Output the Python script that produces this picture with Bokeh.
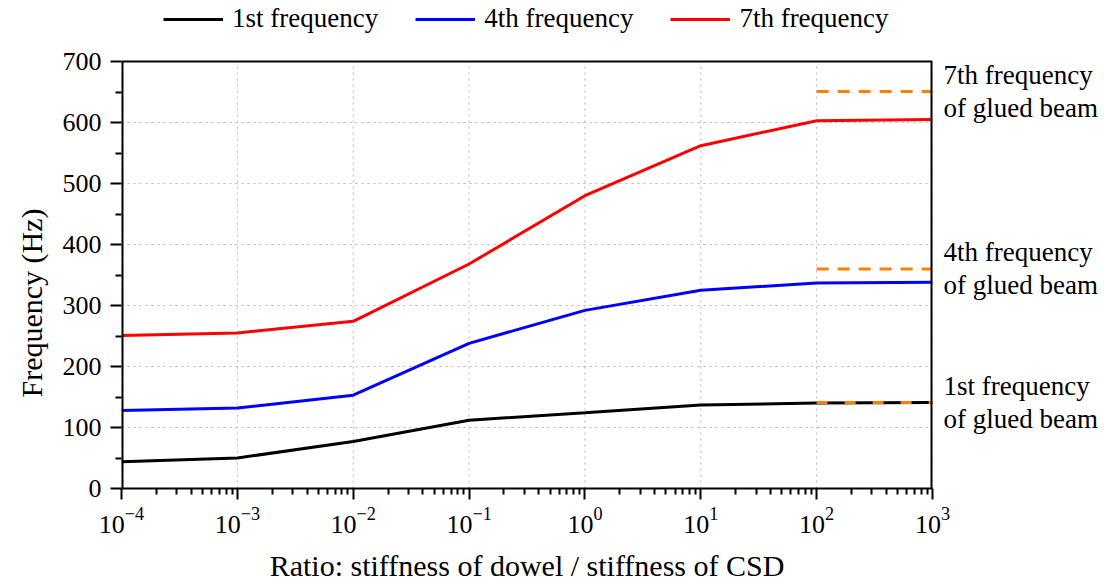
from bokeh.plotting import figure
from bokeh.models import (FixedTicker, LogTickFormatter, Legend, LegendItem,
                          Range1d, LinearAxis, Title)
from bokeh.embed import file_html
from bokeh.resources import INLINE

# ---- data ----
ratios = [1e-4, 1e-3, 1e-2, 1e-1, 1e0, 1e1, 1e2, 1e3]
freq_1st = [44, 50, 77, 112, 124, 137, 140, 141]
freq_4th = [128, 132, 153, 238, 292, 325, 337, 338]
freq_7th = [251, 255, 274, 368, 480, 562, 603, 605]
glued_x = [1e2, 1e3]
glued_1st = 141
glued_4th = 360
glued_7th = 651
series_names = ["1st frequency", "4th frequency", "7th frequency"]
glued_labels = ["1st frequency\nof glued beam",
                "4th frequency\nof glued beam",
                "7th frequency\nof glued beam"]
y_ticks = [0, 100, 200, 300, 400, 500, 600, 700]
x_ticks = [1e-4, 1e-3, 1e-2, 1e-1, 1e0, 1e1, 1e2, 1e3]

FONT = "Liberation Serif"
y_top_room = 800  # frame extends above 700 to host the legend

p = figure(x_axis_type="log", output_backend="svg", toolbar_location=None,
           frame_width=811, frame_height=488,
           min_border_left=121, min_border_right=170,
           min_border_top=0, min_border_bottom=93,
           x_range=Range1d(x_ticks[0], x_ticks[-1]),
           y_range=Range1d(y_ticks[0], y_top_room))

p.background_fill_color = "white"
p.border_fill_color = "white"
p.outline_line_color = None

# axes
minor_x = [m * 10.0 ** e for e in range(-4, 3) for m in range(2, 10)]
p.xaxis.ticker = FixedTicker(ticks=x_ticks, minor_ticks=minor_x)
p.xaxis.formatter = LogTickFormatter()
minor_y = [50 + 100 * i for i in range(7)]
p.yaxis.ticker = FixedTicker(ticks=y_ticks, minor_ticks=minor_y)

for ax in (p.xaxis[0], p.yaxis[0]):
    ax.axis_line_width = 2
    ax.axis_line_color = "black"
    ax.major_tick_line_width = 2
    ax.minor_tick_line_width = 2
    ax.major_tick_line_color = "black"
    ax.minor_tick_line_color = "black"
    ax.major_tick_out = 11
    ax.major_tick_in = 0
    ax.minor_tick_out = 6
    ax.minor_tick_in = 0
    ax.major_label_text_font = FONT
    ax.major_label_text_font_size = "26px"
    ax.major_label_text_color = "black"
p.yaxis.axis_line_color = None
p.xaxis.major_label_standoff = 8
p.yaxis.major_label_standoff = 9

p.xaxis.axis_label = "Ratio: stiffness of dowel / stiffness of CSD"
p.xaxis.axis_label_text_font = FONT
p.xaxis.axis_label_text_font_size = "30px"
p.xaxis.axis_label_text_font_style = "normal"
p.xaxis.axis_label_text_color = "black"
p.xaxis.axis_label_standoff = 13

# y title as a left-side title
p.add_layout(Title(text="Frequency (Hz)", align="left", offset=91,
                   text_font=FONT, text_font_size="30px", text_font_style="normal",
                   text_color="black", standoff=24), "left")

# right axis carrying the glued-beam annotations
right = LinearAxis(ticker=FixedTicker(ticks=[glued_1st, glued_4th, glued_7th],
                                      minor_ticks=[]),
                   major_label_overrides={glued_1st: glued_labels[0],
                                          glued_4th: glued_labels[1],
                                          glued_7th: glued_labels[2]},
                   axis_line_color=None, major_tick_line_color=None,
                   minor_tick_line_color=None, major_tick_out=0, major_tick_in=0,
                   major_label_standoff=11,
                   major_label_text_font=FONT, major_label_text_font_size="27px",
                   major_label_text_color="black",
                   major_label_text_line_height=1.1)
p.add_layout(right, "right")

# grid: horizontal via Grid, vertical as dotted segments limited to the box
p.ygrid.ticker = FixedTicker(ticks=y_ticks)
p.ygrid.grid_line_color = "#b5b5b5"
p.ygrid.grid_line_dash = "2 4"
p.ygrid.grid_line_width = 1
p.xgrid.visible = False
p.segment(x0=x_ticks, y0=[y_ticks[0]] * len(x_ticks), x1=x_ticks,
          y1=[y_ticks[-1]] * len(x_ticks),
          line_color="#b5b5b5", line_dash="2 4", line_width=1)

# lines
r1 = p.line(ratios, freq_1st, line_color="black", line_width=3)
r4 = p.line(ratios, freq_4th, line_color="#0000ff", line_width=3)
r7 = p.line(ratios, freq_7th, line_color="#ff0000", line_width=3)

orange = "#ff8000"
p.line(glued_x, [glued_7th, glued_7th], line_color=orange, line_width=3, line_dash="12 9")
p.line(glued_x, [glued_4th, glued_4th], line_color=orange, line_width=3, line_dash="12 9")
p.line(glued_x, [glued_1st, glued_1st], line_color=orange, line_width=3, line_dash="11 17")

# box spines (left/right on frame edges are half clipped, hence width 4)
p.segment(x0=[x_ticks[0], x_ticks[-1]], y0=[y_ticks[0]] * 2,
          x1=[x_ticks[0], x_ticks[-1]], y1=[y_ticks[-1]] * 2,
          line_color="black", line_width=4)
p.segment(x0=[x_ticks[0]], y0=[y_ticks[-1]], x1=[x_ticks[-1]], y1=[y_ticks[-1]],
          line_color="black", line_width=2)

# legend in the top strip of the frame
legend = Legend(items=[LegendItem(label=n, renderers=[r]) for n, r in
                       zip(series_names, [r1, r4, r7])],
                orientation="horizontal", location=(42, 454),
                glyph_width=60, glyph_height=26, label_height=26,
                label_standoff=9, spacing=37, padding=0, margin=0,
                border_line_color=None, background_fill_alpha=0,
                label_text_font=FONT, label_text_font_size="27px",
                label_text_color="black")
p.add_layout(legend, "center")

open("out.html", "w").write(file_html(p, INLINE))
